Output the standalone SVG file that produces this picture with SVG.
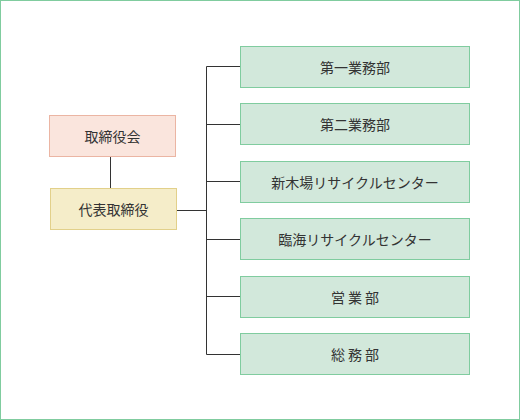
<svg xmlns="http://www.w3.org/2000/svg" width="520" height="420" viewBox="0 0 520 420">
<style>
text{font-family:"Noto Sans CJK JP","Noto Sans",sans-serif;font-size:14px;fill:#333;text-anchor:middle;dominant-baseline:central}
.g rect{fill:#d2e8db;stroke:#80cc9f;stroke-width:1}
.conn{stroke:#333;stroke-width:1;fill:none}
</style>
<rect x="0.5" y="0.5" width="519" height="419" fill="#fff" stroke="#80cc9f" stroke-width="1"/>
<g id="connectors" class="conn">
<path d="M110.5 156.5V188.5M176.5 210.5H206.5M206.5 66.5V354.5M206.5 66.5H240M206.5 124.5H240M206.5 181.5H240M206.5 239.5H240M206.5 296.5H240M206.5 354.5H240"/>
</g>
<g id="board"><rect x="49.5" y="115.5" width="126" height="41" fill="#fae5dd" stroke="#ebb5a3"/><text x="112.5" y="136">取締役会</text></g>
<g id="president"><rect x="50.5" y="188.5" width="126" height="41" fill="#f5edc9" stroke="#e2d08a"/><text x="113.5" y="209">代表取締役</text></g>
<g id="dept1" class="g"><rect x="240.5" y="46.5" width="229" height="41"/><text x="355" y="67">第一業務部</text></g>
<g id="dept2" class="g"><rect x="240.5" y="103.5" width="229" height="41"/><text x="355" y="124">第二業務部</text></g>
<g id="dept3" class="g"><rect x="240.5" y="161.5" width="229" height="41"/><text x="355" y="182">新木場リサイクルセンター</text></g>
<g id="dept4" class="g"><rect x="240.5" y="218.5" width="229" height="41"/><text x="355" y="239">臨海リサイクルセンター</text></g>
<g id="dept5" class="g"><rect x="240.5" y="276.5" width="229" height="41"/><text x="356.5" y="297" letter-spacing="3">営業部</text></g>
<g id="dept6" class="g"><rect x="240.5" y="333.5" width="229" height="41"/><text x="356.5" y="354" letter-spacing="3">総務部</text></g>
</svg>
